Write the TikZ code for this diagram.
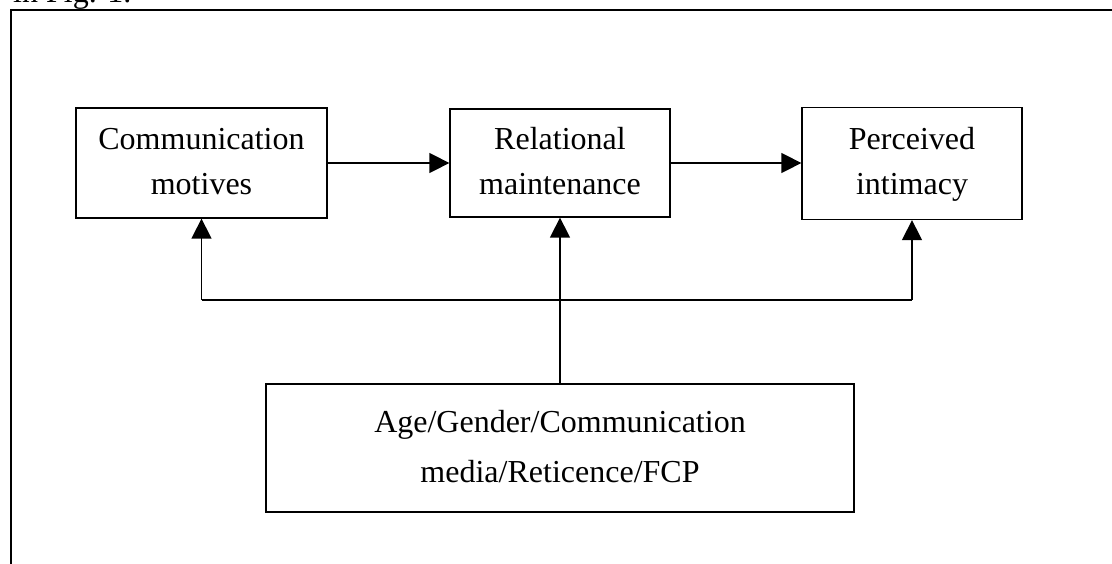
\documentclass[tikz,border=0pt]{standalone}
\usepackage{fontspec}
\setmainfont{Liberation Serif}
\usetikzlibrary{arrows.meta}
\begin{document}
\begin{tikzpicture}[x=1pt,y=-1pt,
  box/.style={draw=black, line width=1.3pt, inner sep=0pt, align=center,
    font=\fontsize{32}{45}\selectfont, text height=67pt, text depth=5pt},
  widebox/.style={box, font=\fontsize{32}{50}\selectfont, text height=73pt, text depth=5pt},
  conn/.style={line width=1.5pt, -{Triangle[length=20pt,width=20pt]}},
  plain/.style={line width=1.5pt},
  frame/.style={line width=2pt}]
\useasboundingbox (0,0) rectangle (1112,563);
\clip (0,0) rectangle (1112,563);
\node[anchor=base west, inner sep=0pt, font=\fontsize{32}{45}\selectfont] (cap) at (13,2) {in Fig. 1.};
\coordinate (fbl) at (10.7,600);
\coordinate (ftl) at (10.7,10);
\coordinate (ftr) at (1130,10);
\draw[frame] (fbl) -- (ftl) -- (ftr);
\node[box, minimum width=251pt, minimum height=110pt] (cm) at (201.5,163) {Communication\\motives};
\node[box, minimum width=220pt, minimum height=108pt] (rm) at (560,163) {Relational\\maintenance};
\node[box, minimum width=220pt, minimum height=112pt] (pi) at (912,163.5) {Perceived\\intimacy};
\node[widebox, minimum width=588pt, minimum height=128pt] (ag) at (560,448) {Age/Gender/Communication\\media/Reticence/FCP};
\coordinate (hl) at (560,300);
\draw[conn] (cm.east) -- (rm.west);
\draw[conn] (rm.east) -- (rm.east -| pi.west);
\draw[conn] (ag.north) -- (rm.south);
\draw[plain] (hl -| cm.south) -- (hl -| pi.south);
\draw[conn] (hl -| cm.south) -- (cm.south);
\draw[conn] (hl -| pi.south) -- (pi.south);
\end{tikzpicture}
\end{document}
